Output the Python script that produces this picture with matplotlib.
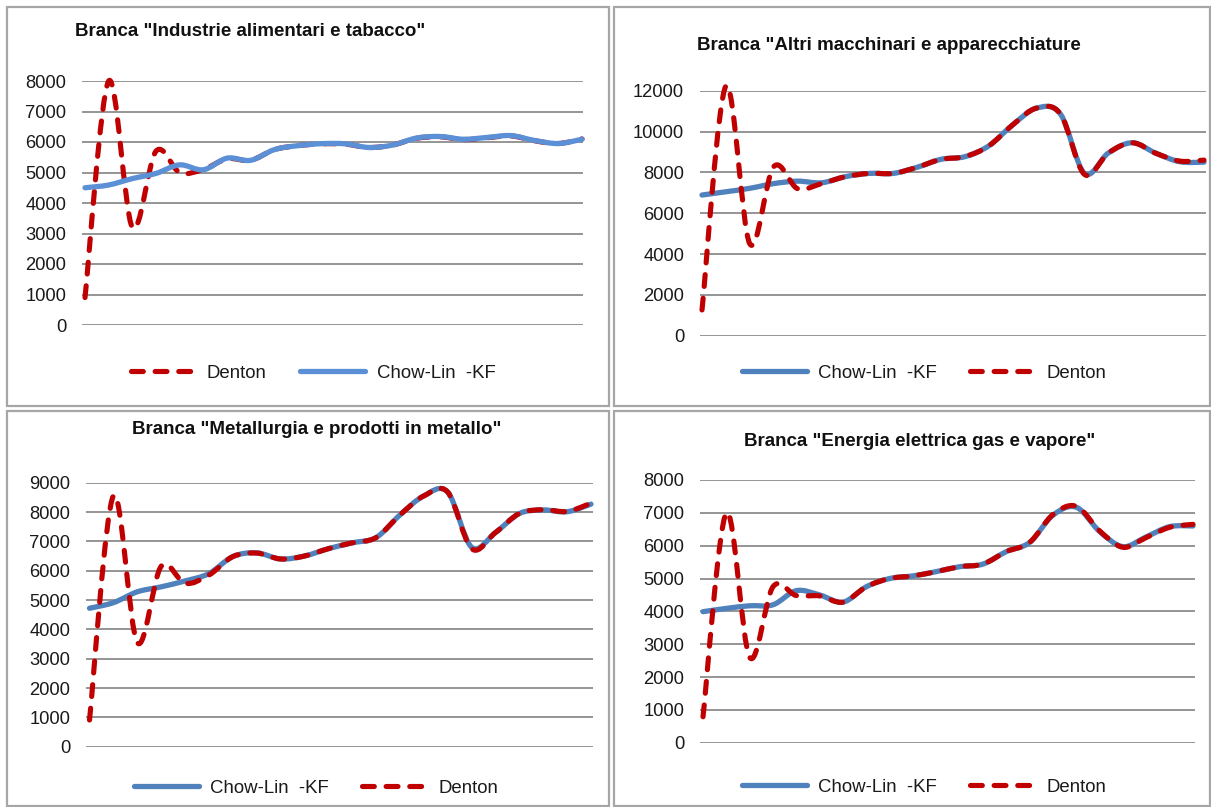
import matplotlib
matplotlib.use('Agg')
import matplotlib.pyplot as plt
from matplotlib.path import Path
from matplotlib.patches import PathPatch, Rectangle
from matplotlib.lines import Line2D

plt.rcParams['font.family'] = ['Liberation Sans', 'DejaVu Sans']

# values, one point per period (22 periods)
titles = ['Branca "Industrie alimentari e tabacco"',
          'Branca "Altri macchinari e apparecchiature',
          'Branca "Metallurgia e prodotti in metallo"',
          'Branca "Energia elettrica gas e vapore"']

chowlin_food = [4500, 4590, 4800, 4970, 5250, 5090, 5470, 5400, 5750, 5880, 5945,
                5940, 5820, 5900, 6130, 6180, 6090, 6150, 6210, 6050, 5950, 6090]
denton_food = [900, 8000, 3200, 5700, 5000, 5100, 5450, 5400, 5750, 5880, 5940,
               5930, 5820, 5900, 6120, 6170, 6080, 6140, 6200, 6040, 5950, 6100]

chowlin_mach = [6890, 7050, 7220, 7450, 7570, 7490, 7790, 7950, 7950, 8250, 8640,
                8770, 9300, 10330, 11150, 10850, 7950, 8950, 9450, 8930, 8520, 8500]
denton_mach = [1260, 12230, 4500, 8280, 7200, 7450, 7790, 7950, 7950, 8250, 8640,
               8770, 9300, 10330, 11150, 10850, 7900, 8950, 9450, 8930, 8550, 8600]

chowlin_metal = [4720, 4910, 5280, 5450, 5650, 5900, 6480, 6610, 6400, 6500, 6750,
                 6950, 7130, 7900, 8550, 8680, 6800, 7300, 7950, 8070, 8010, 8270]
denton_metal = [910, 8550, 3550, 6150, 5570, 5850, 6480, 6600, 6400, 6500, 6750,
                6950, 7130, 7900, 8550, 8680, 6750, 7300, 7950, 8080, 8020, 8300]

chowlin_energy = [3990, 4090, 4170, 4200, 4630, 4500, 4280, 4750, 5000, 5080, 5210,
                  5360, 5440, 5820, 6100, 6930, 7170, 6430, 5970, 6270, 6580, 6600]
denton_energy = [790, 7000, 2600, 4750, 4480, 4470, 4280, 4750, 5000, 5080, 5210,
                 5360, 5440, 5820, 6100, 6950, 7200, 6450, 5950, 6250, 6560, 6650]

W, H = 1211, 807
RED = '#C00000'
BLUE_LIGHT = '#5B8FD6'
BLUE = '#4F81BD'


def smooth_path(ys):
    # excel-like smoothed line: bezier through every point (catmull-rom handles)
    xs = list(range(len(ys)))
    pts = list(zip(xs, ys))
    verts = [pts[0]]
    codes = [Path.MOVETO]
    n = len(pts)
    for i in range(n - 1):
        p0 = pts[max(i - 1, 0)]
        p1 = pts[i]
        p2 = pts[i + 1]
        p3 = pts[min(i + 2, n - 1)]
        c1 = (p1[0] + (p2[0] - p0[0]) / 6, p1[1] + (p2[1] - p0[1]) / 6)
        c2 = (p2[0] - (p3[0] - p1[0]) / 6, p2[1] - (p3[1] - p1[1]) / 6)
        verts += [c1, c2, p2]
        codes += [Path.CURVE4] * 3
    return Path(verts, codes)


def px_axes(left, right, top, bottom):
    return [left / W, 1 - bottom / H, (right - left) / W, (bottom - top) / H]


fig = plt.figure(figsize=(W / 100, H / 100), dpi=100)

# panel frames
for (l, t, r, b) in [(7, 7, 609, 406), (614, 7, 1210, 406),
                     (7, 411, 609, 806), (614, 411, 1210, 806)]:
    fig.add_artist(Rectangle((l / W, 1 - b / H), (r - l) / W, (b - t) / H,
                             transform=fig.transFigure, fill=False,
                             edgecolor='#a6a6a6', linewidth=1.6))

panels = [
    dict(box=(82, 583, 81, 325), xlim=(-0.127, 21.04), ymax=8000, step=1000,
         tpos=(250, 31), lpos=(313, 373), cl=chowlin_food, dn=denton_food,
         blue=BLUE_LIGHT, denton_first=True),
    dict(box=(700, 1206, 90.7, 335.7), xlim=(-0.084, 21.084), ymax=12000, step=2000,
         tpos=(889, 46), lpos=(924, 373), cl=chowlin_mach, dn=denton_mach,
         blue=BLUE, denton_first=False),
    dict(box=(86.4, 593, 482.7, 746.7), xlim=(-0.13, 21.084), ymax=9000, step=1000,
         tpos=(317, 429), lpos=(316, 788), cl=chowlin_metal, dn=denton_metal,
         blue=BLUE, denton_first=False),
    dict(box=(700, 1194.5, 480, 742.7), xlim=(-0.129, 21.064), ymax=8000, step=1000,
         tpos=(920, 442), lpos=(924, 787), cl=chowlin_energy, dn=denton_energy,
         blue=BLUE, denton_first=False),
]

for title, p in zip(titles, panels):
    ax = fig.add_axes(px_axes(*p['box']))
    ax.set_xlim(*p['xlim'])
    ax.set_ylim(0, p['ymax'])
    ax.set_yticks(range(0, p['ymax'] + 1, p['step']))
    ax.set_xticks([])
    ax.grid(axis='y', color='#8c8c8c', linewidth=1.3)
    ax.set_axisbelow(True)
    for s in ax.spines.values():
        s.set_visible(False)
    ax.tick_params(axis='y', length=0, pad=11.5, labelsize=13.2, colors='#1a1a1a')
    ax.patch.set_visible(False)

    cl_patch = PathPatch(smooth_path(p['cl']), fill=False, edgecolor=p['blue'],
                         linewidth=3.8, capstyle='round', joinstyle='round',
                         clip_on=False)
    dn_patch = PathPatch(smooth_path(p['dn']), fill=False, edgecolor=RED,
                         linewidth=3.7, linestyle=(0, (2.3, 2.3)),
                         capstyle='round', joinstyle='round', clip_on=False)
    if p['denton_first']:
        dn_patch.set_zorder(3)
        cl_patch.set_zorder(4)
    else:
        cl_patch.set_zorder(3)
        dn_patch.set_zorder(4)
    ax.add_patch(cl_patch)
    ax.add_patch(dn_patch)

    h_cl = Line2D([], [], color=p['blue'], linewidth=3.8, solid_capstyle='round')
    h_dn = Line2D([], [], color=RED, linewidth=3.7, linestyle=(0, (2.3, 2.3)),
                  dash_capstyle='round')
    if p['denton_first']:
        handles, labels = [h_dn, h_cl], ['Denton', 'Chow-Lin  -KF']
    else:
        handles, labels = [h_cl, h_dn], ['Chow-Lin  -KF', 'Denton']
    fig.legend(handles, labels, loc='center', ncol=2, frameon=False,
               bbox_to_anchor=(p['lpos'][0] / W, 1 - p['lpos'][1] / H),
               fontsize=13.4, handlelength=3.5, handletextpad=0.6,
               columnspacing=1.8, borderpad=0, labelcolor='#1a1a1a')

    fig.text(p['tpos'][0] / W, 1 - p['tpos'][1] / H, title, ha='center',
             va='center', fontsize=13.5, fontweight='bold', color='#111111')

fig.savefig('out.png', dpi=100)
